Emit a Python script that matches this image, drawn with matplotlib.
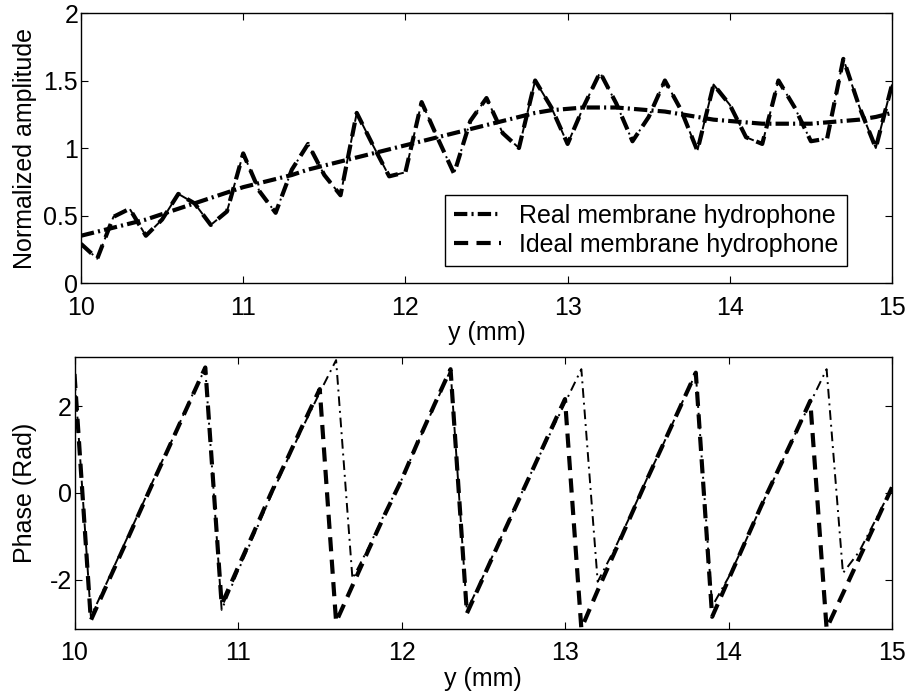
import numpy as np
import matplotlib
matplotlib.use('Agg')
import matplotlib.pyplot as plt

plt.rcParams['font.family'] = ['Liberation Sans', 'DejaVu Sans']

# positions along y (mm), sampled every 0.1 mm
yPos = [10.0, 10.1, 10.2, 10.3, 10.4, 10.5, 10.6, 10.7, 10.8, 10.9,
        11.0, 11.1, 11.2, 11.3, 11.4, 11.5, 11.6, 11.7, 11.8, 11.9,
        12.0, 12.1, 12.2, 12.3, 12.4, 12.5, 12.6, 12.7, 12.8, 12.9,
        13.0, 13.1, 13.2, 13.3, 13.4, 13.5, 13.6, 13.7, 13.8, 13.9,
        14.0, 14.1, 14.2, 14.3, 14.4, 14.5, 14.6, 14.7, 14.8, 14.9, 15.0]

realAmp = [0.35, 0.38, 0.41, 0.44, 0.47, 0.51, 0.55, 0.59, 0.63, 0.67,
           0.71, 0.74, 0.77, 0.80, 0.84, 0.87, 0.90, 0.93, 0.96, 0.99,
           1.02, 1.05, 1.08, 1.11, 1.14, 1.17, 1.20, 1.23, 1.26, 1.28,
           1.29, 1.30, 1.30, 1.30, 1.29, 1.28, 1.27, 1.25, 1.23, 1.21,
           1.20, 1.19, 1.18, 1.18, 1.18, 1.18, 1.19, 1.20, 1.21, 1.23, 1.26]

idealAmp = [0.29, 0.18, 0.49, 0.55, 0.35, 0.47, 0.66, 0.59, 0.43, 0.53,
            0.96, 0.68, 0.52, 0.84, 1.03, 0.80, 0.65, 1.26, 1.02, 0.79,
            0.82, 1.34, 1.07, 0.81, 1.20, 1.37, 1.11, 1.00, 1.50, 1.30,
            1.03, 1.31, 1.56, 1.33, 1.05, 1.23, 1.50, 1.28, 0.98, 1.47,
            1.32, 1.08, 1.03, 1.50, 1.30, 1.05, 1.07, 1.66, 1.30, 1.00, 1.47]

idealPhase = [2.75, -2.94, -2.10, -1.27, -0.43, 0.41, 1.24, 2.07, 2.90, -2.58,
              -1.72, -0.88, -0.02, 0.78, 1.60, 2.40, -2.98, -2.14, -1.30, -0.48,
              0.30, 1.18, 2.03, 2.86, -2.78, -1.95, -1.12, -0.30, 0.52, 1.35,
              2.17, -3.13, -2.25, -1.40, -0.55, 0.30, 1.12, 1.95, 2.78, -2.86,
              -2.00, -1.15, -0.30, 0.50, 1.30, 2.13, -3.13, -2.32, -1.50, -0.69, 0.13]

realPhase = [2.75, -2.85, -2.05, -1.22, -0.40, 0.45, 1.25, 2.10, 2.88, -2.70,
             -1.80, -0.95, -0.08, 0.75, 1.55, 2.32, 3.07, -1.98, -1.25, -0.45,
             0.30, 1.16, 2.00, 2.84, -2.72, -1.92, -1.10, -0.28, 0.52, 1.30,
             2.08, 2.86, -2.05, -1.32, -0.52, 0.32, 1.12, 1.96, 2.76, -2.62,
             -1.95, -1.15, -0.30, 0.50, 1.30, 2.08, 2.86, -1.85, -1.35, -0.62, 0.13]

ampTicks = [0, 0.5, 1, 1.5, 2]
ampTickLabels = ['0', '0.5', '1', '1.5', '2']
phaseTicks = [-2, 0, 2]
phaseTickLabels = ['-2', '0', '2']
xTicks = [10, 11, 12, 13, 14, 15]

fs = 18
thickW = 3.0
thinW = 1.4
dashStyle = (0, (3.4, 2.0))
dashDotStyle = (0, (3.2, 1.0, 0.5, 1.0))
thinDashDot = (0, (5.0, 2.5, 1.0, 2.5))

fig = plt.figure(figsize=(9.12, 7.0), dpi=100)
ax1 = fig.add_axes([81/912, 1-283/700, 811/912, 270/700])
ax2 = fig.add_axes([74.5/912, 1-629/700, 817.5/912, 272/700])

ax1.plot(yPos, idealAmp, color='black', linewidth=thinW, linestyle=thinDashDot)
ax1.plot(yPos, realAmp, color='black', linewidth=thickW, linestyle=dashDotStyle,
         label='Real membrane hydrophone')
ax1.plot(yPos, idealAmp, color='black', linewidth=thickW, linestyle=dashStyle,
         label='Ideal membrane hydrophone')
ax1.set_ylim(0, 2)
ax1.set_yticks(ampTicks)
ax1.set_yticklabels(ampTickLabels)
ax1.set_ylabel('Normalized amplitude', fontsize=fs)
ax1.yaxis.set_label_coords((37-81)/811, 0.5)

leg = ax1.legend(loc='lower right', bbox_to_anchor=(0.9445, 0.063), borderaxespad=0,
                 fontsize=fs, fancybox=False, framealpha=1, edgecolor='black',
                 handlelength=1.9, handletextpad=0.7, labelspacing=0.2,
                 borderpad=0.35)
leg.get_frame().set_linewidth(1.0)

ax2.plot(yPos, realPhase, color='black', linewidth=thinW, linestyle=thinDashDot)
ax2.plot(yPos, idealPhase, color='black', linewidth=thickW, linestyle=dashStyle)
ax2.set_ylim(-np.pi, np.pi)
ax2.set_yticks(phaseTicks)
ax2.set_yticklabels(phaseTickLabels)
ax2.set_ylabel('Phase (Rad)', fontsize=fs)
ax2.yaxis.set_label_coords((37-74.5)/817.5, 0.5)

for ax in [ax1, ax2]:
    ax.set_xlim(10, 15)
    ax.set_xticks(xTicks)
    ax.set_xticklabels([str(t) for t in xTicks])
    ax.set_xlabel('y (mm)', fontsize=fs, labelpad=1)
    ax.tick_params(direction='in', length=5, width=0.8, top=True, right=True,
                   labelsize=fs, color='black')
    ax.tick_params(axis='x', pad=9)
    ax.tick_params(axis='y', pad=2)
    for sp in ax.spines.values():
        sp.set_linewidth(1.0)
        sp.set_color('black')

fig.savefig('out.png', dpi=100)
